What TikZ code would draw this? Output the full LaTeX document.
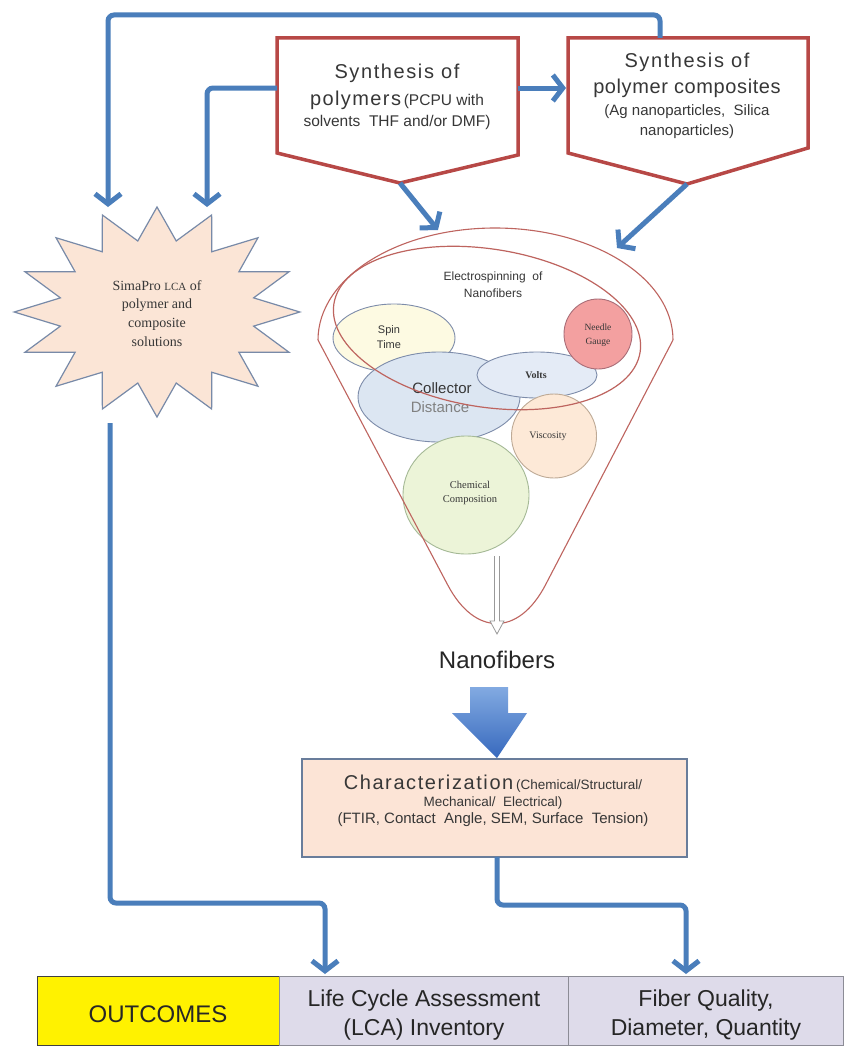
\documentclass[tikz,border=0pt]{standalone}
\usepackage{fontspec}
\setmainfont{Liberation Sans}
\newfontfamily\serifx{Liberation Serif}
\usetikzlibrary{shapes.geometric,arrows.meta}
\definecolor{connblue}{RGB}{74,126,187}
\definecolor{pentred}{RGB}{183,72,70}
\definecolor{txtgray}{RGB}{55,55,55}
\definecolor{starfill}{RGB}{251,229,214}
\definecolor{starborder}{RGB}{120,138,168}
\definecolor{funnelred}{RGB}{190,100,95}
\definecolor{spinfill}{RGB}{253,250,226}
\definecolor{collfill}{RGB}{220,230,242}
\definecolor{voltfill}{RGB}{228,235,246}
\definecolor{needlefill}{RGB}{243,160,160}
\definecolor{viscfill}{RGB}{253,233,215}
\definecolor{chemfill}{RGB}{236,244,216}
\definecolor{bubbleborder}{RGB}{125,140,170}
\definecolor{viscborder}{RGB}{190,170,150}
\definecolor{chemborder}{RGB}{165,185,150}
\definecolor{needleborder}{RGB}{170,110,120}
\definecolor{charfill}{RGB}{252,228,214}
\definecolor{charborder}{RGB}{105,125,155}
\definecolor{cellfill}{RGB}{222,219,234}
\definecolor{cellborder}{RGB}{140,140,150}
\definecolor{arrowtop}{RGB}{130,170,225}
\definecolor{arrowbot}{RGB}{55,105,190}
\begin{document}
\begin{tikzpicture}[x=1pt,y=-1pt,
  conn/.style={draw=connblue, line width=5pt, rounded corners=6pt,
    -{Straight Barb[length=10pt,width=26pt]}},
  pent/.style={draw=pentred, line width=3.5pt, fill=white, line join=miter},
  txt/.style={anchor=base, inner sep=0pt, text=txtgray},
  bubble/.style={ellipse, draw=bubbleborder, line width=0.9pt, inner sep=0pt},
  cell/.style={draw=cellborder, line width=1pt, fill=cellfill, anchor=north west,
    minimum height=69pt, inner sep=0pt}]
\fill[white] (0,0) rectangle (844,1049);
\useasboundingbox (0,0) rectangle (844,1049);

% ---------- pentagons ----------
\draw[pent] (277,38) -- (518,38) -- (518,155) -- (400,183) -- (277,153) -- cycle;
\draw[pent] (568,38) -- (808,38) -- (808,148) -- (687,184) -- (568,153) -- cycle;
\coordinate (p1left) at (277,88);
\coordinate (p1right) at (518,88);
\coordinate (p1tip) at (400,183);
\coordinate (p2left) at (566,88);
\coordinate (p2top) at (660,38);
\coordinate (p2tip) at (687,184);

\node[txt, font=\fontsize{20}{22}\selectfont\addfontfeature{LetterSpace=8}] (p1a) at (397,78) {Synthesis of};
\node[txt] (p1b) at (397,105) {{\fontsize{20}{22}\selectfont\addfontfeature{LetterSpace=7}polymers} {\fontsize{15.5}{17}\selectfont(PCPU with}};
\node[txt, font=\fontsize{15.5}{17}\selectfont] (p1c) at (397,126) {solvents\ \ THF and/or DMF)};

\node[txt, font=\fontsize{20}{22}\selectfont\addfontfeature{LetterSpace=8}] (p2a) at (687,67) {Synthesis of};
\node[txt, font=\fontsize{20}{22}\selectfont\addfontfeature{LetterSpace=3}] (p2b) at (687,93) {polymer composites};
\node[txt, font=\fontsize{15}{17}\selectfont] (p2c) at (687,115) {(Ag nanoparticles,\ \ Silica};
\node[txt, font=\fontsize{15}{17}\selectfont] (p2d) at (687,135) {nanoparticles)};

% ---------- star ----------
\node[star, star points=16, star point ratio=1.45, minimum size=210pt, xscale=1.36,
  draw=starborder, line width=1.2pt, fill=starfill, inner sep=0pt] (star) at (157,312) {};
\coordinate (stara) at (108,207);
\coordinate (starb) at (207,207);
\coordinate (starbot) at (110,423);
\node[txt, font=\serifx\fontsize{14}{16}\selectfont] (s1) at (157,290) {SimaPro {\fontsize{11}{12}\selectfont LCA} of};
\node[txt, font=\serifx\fontsize{14}{16}\selectfont] (s2) at (157,308) {polymer and};
\node[txt, font=\serifx\fontsize{14}{16}\selectfont] (s3) at (157,327) {composite};
\node[txt, font=\serifx\fontsize{14}{16}\selectfont] (s4) at (157,346) {solutions};

% ---------- bubbles ----------
\node[bubble, fill=spinfill, minimum width=122pt, minimum height=68pt] (spin) at (394,338) {};
\node[bubble, fill=collfill, minimum width=162pt, minimum height=90pt] (coll) at (439,397) {};
\node[bubble, fill=voltfill, minimum width=120pt, minimum height=46pt] (volt) at (537,375) {};
\node[bubble, fill=needlefill, draw=needleborder, minimum width=68pt, minimum height=70pt] (needle) at (598,334) {};
\node[bubble, fill=viscfill, draw=viscborder, minimum width=85pt, minimum height=84pt] (visc) at (554,436) {};
\node[bubble, fill=chemfill, draw=chemborder, minimum width=126pt, minimum height=118pt] (chem) at (466,495) {};

\node[txt, font=\fontsize{11}{12}\selectfont] (spin1) at (389,333) {Spin};
\node[txt, font=\fontsize{11}{12}\selectfont] (spin2) at (389,348) {Time};
\node[txt, font=\fontsize{15}{16}\selectfont] (coll1) at (442,393) {Collector};
\node[txt, font=\fontsize{15}{16}\selectfont, text=gray] (coll2) at (440,412) {Distance};
\node[txt, font=\serifx\bfseries\fontsize{10}{11}\selectfont] (volt1) at (536,378) {Volts};
\node[txt, font=\serifx\fontsize{9.5}{11}\selectfont] (needle1) at (598,330) {Needle};
\node[txt, font=\serifx\fontsize{9.5}{11}\selectfont] (needle2) at (598,344) {Gauge};
\node[txt, font=\serifx\fontsize{10}{11}\selectfont] (visc1) at (548,438) {Viscosity};
\node[txt, font=\serifx\fontsize{10.5}{12}\selectfont] (chem1) at (470,488) {Chemical};
\node[txt, font=\serifx\fontsize{10.5}{12}\selectfont] (chem2) at (470,502) {Composition};

\node[txt, font=\fontsize{12}{13}\selectfont] (es1) at (493,280) {Electrospinning\ \ of};
\node[txt, font=\fontsize{12}{13}\selectfont] (es2) at (493,297) {Nanofibers};

% ---------- funnel ----------
\draw[funnelred, line width=1.2pt, rotate around={-9:(487,328)}]
  (487,328) ellipse [x radius=155pt, y radius=79pt];
\draw[funnelred, line width=1.1pt, rounded corners=105pt]
  (673,340) -- (497,678) -- (318,340);
\draw[funnelred, line width=1.1pt]
  (318,340) .. controls (318,278) and (397,228) .. (495,228)
  .. controls (593,228) and (673,278) .. (673,340);

% hollow arrow
\coordinate (chembot) at (497,556);
\draw[gray!80, line width=0.8pt, fill=white]
  (494.5,556) -- (494.5,621) -- (490,621) -- (497,634) -- (504,621) -- (499.5,621) -- (499.5,556);

\node[txt, font=\fontsize{24}{26}\selectfont, text=black!85] (nano) at (497,668) {Nanofibers};

% big block arrow
\shade[top color=arrowtop, bottom color=arrowbot]
  (470,687) -- (508,687) -- (508,713) -- (527,713) -- (497,758) -- (452,713) -- (470,713) -- cycle;

% ---------- characterization ----------
\node[draw=charborder, fill=charfill, line width=1.2pt, minimum width=385pt,
  minimum height=98pt, inner sep=0pt] (char) at (494.5,808) {};
\node[txt] (c1) at (493,789) {{\fontsize{20}{22}\selectfont\addfontfeature{LetterSpace=8}Characterization} {\fontsize{13.5}{15}\selectfont(Chemical/Structural/}};
\node[txt, font=\fontsize{13.5}{15}\selectfont] (c2) at (493,806) {Mechanical/\ \ Electrical)};
\node[txt, font=\fontsize{15}{16}\selectfont] (c3) at (493,823) {(FTIR, Contact\ \ Angle, SEM, Surface\ \ Tension)};
\coordinate (charbot) at (497,857);

% ---------- outcomes table ----------
\node[cell, fill=yellow, draw=black!75, line width=1.2pt, minimum width=242pt] (out) at (37,976) {};
\node[cell, minimum width=289pt] (lca) at (279,976) {};
\node[cell, minimum width=275pt] (fib) at (568,976) {};
\node[txt, font=\fontsize{24}{26}\selectfont, text=black!85] (outt) at (158,1022) {OUTCOMES};
\node[txt, font=\fontsize{23}{25}\selectfont, text=black!85] (lca1) at (424,1006) {Life Cycle Assessment};
\node[txt, font=\fontsize{23}{25}\selectfont, text=black!85] (lca2) at (424,1035) {(LCA) Inventory};
\node[txt, font=\fontsize{23}{25}\selectfont, text=black!85] (fib1) at (706,1006) {Fiber Quality,};
\node[txt, font=\fontsize{23}{25}\selectfont, text=black!85] (fib2) at (706,1035) {Diameter, Quantity};
\coordinate (lcatop) at (325,974);
\coordinate (fibtop) at (686,974);

% ---------- connectors ----------
\draw[conn] (p2top) -- (660,15) -- (108,15) -- (stara);
\draw[conn] (p1left) -- (207,88) -- (starb);
\draw[conn] (p1right) -- (p2left);
\draw[conn] (p1tip) -- (438,230);
\draw[conn] (p2tip) -- (617,248);
\draw[conn] (starbot) -- (110,903) -- (325,903) -- (lcatop);
\draw[conn] (charbot) -- (497,905) -- (686,905) -- (fibtop);
\end{tikzpicture}
\end{document}
